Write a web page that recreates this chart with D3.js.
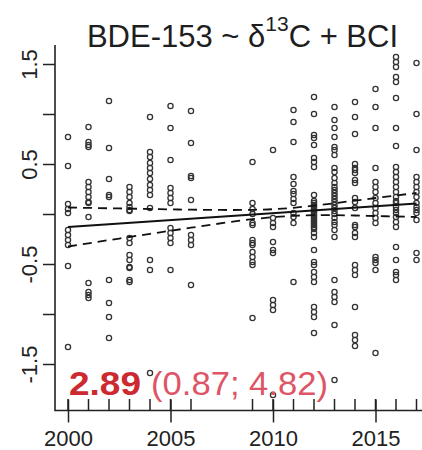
<!DOCTYPE html>
<html><head><meta charset="utf-8">
<script src="https://cdn.jsdelivr.net/npm/d3@7"></script>
<style>
body{margin:0;background:#fff;}
svg{display:block;font-family:"Liberation Sans",Arial,sans-serif;}
</style>
</head><body>
<svg id="c" width="422" height="450"></svg>
<script>
// ---- data ----
const years = [2000,2001,2002,2003,2004,2005,2006,2009,2010,2011,2012,2013,2014,2015,2016,2017];
const values = [
  [0.77,0.48,0.10,0.05,0.01,-0.16,-0.21,-0.26,-0.31,-0.52,-1.33],
  [0.87,0.72,0.69,0.67,0.32,0.27,0.22,0.17,0.12,0.11,-0.03,-0.69,-0.78,-0.81,-0.84],
  [1.13,0.66,0.35,0.19,0.17,-0.66,-0.89,-1.03,-1.24],
  [0.27,0.22,0.17,0.11,0.07,0.04,0.03,-0.24,-0.29,-0.41,-0.46,-0.53,-0.54,-0.66,-0.68],
  [0.97,0.62,0.57,0.51,0.46,0.41,0.35,0.29,0.24,0.19,0.06,-0.46,-0.56,-1.59],
  [1.08,0.86,0.54,0.26,0.21,0.16,0.11,-0.14,-0.19,-0.24,-0.29,-0.56],
  [1.03,0.71,0.38,0.36,0.14,-0.21,-0.26,-0.31,-0.71],
  [0.52,0.11,0.05,0.0,-0.09,-0.11,-0.26,-0.29,-0.31,-0.38,-0.43,-0.48,-0.51,-1.04],
  [0.64,-0.04,-0.09,-0.13,-0.28,-0.36,-0.39,-0.86,-0.91,-0.96,-1.81],
  [1.04,0.92,0.72,0.37,0.30,0.23,0.20,0.15,0.11,0.01,-0.03,-0.09,-0.68],
  [1.17,1.00,0.79,0.76,0.69,0.56,0.52,0.47,0.19,0.13,0.11,0.09,0.07,0.05,0.03,0.01,-0.01,-0.03,-0.05,-0.07,-0.09,-0.11,-0.13,-0.15,-0.19,-0.23,-0.36,-0.48,-0.51,-0.58,-0.63,-0.68,-0.93,-0.98,-1.03,-1.19],
  [1.07,0.94,0.86,0.77,0.67,0.64,0.59,0.46,0.42,0.36,0.31,0.27,0.24,0.21,0.18,0.15,0.12,0.09,0.06,0.03,0.0,-0.04,-0.08,-0.11,-0.16,-0.23,-0.66,-0.78,-0.83,-0.88,-1.11,-1.66],
  [1.12,0.97,0.80,0.50,0.46,0.44,0.41,0.34,0.31,0.16,0.12,0.06,-0.11,-0.13,-0.19,-0.23,-0.51,-0.56,-0.61,-0.93,-1.21,-1.26,-1.32],
  [1.25,1.07,0.86,0.46,0.32,0.27,0.22,0.16,0.11,0.06,0.01,-0.04,-0.09,-0.43,-0.46,-0.49,-0.56,-1.39],
  [1.57,1.52,1.47,1.37,1.32,1.16,0.86,0.68,0.47,0.42,0.37,0.32,0.27,0.22,0.17,0.13,0.11,0.07,0.04,0.01,-0.03,-0.08,-0.13,-0.33,-0.46,-0.58,-0.61,-0.66],
  [1.51,1.00,0.64,0.37,0.32,0.27,0.22,0.17,0.11,0.07,0.04,0.01,-0.06,-0.39,-0.46]
];
const fitYears = [2000, 2017];
const fitValues = [-0.13, 0.106];
const bandYears = [2000,2001,2002,2003,2004,2005,2006,2007,2008,2009,2010,2011,2012,2013,2014,2015,2016,2017];
const bandUpper = [0.065,0.061,0.057,0.054,0.050,0.046,0.043,0.041,0.040,0.042,0.048,0.062,0.084,0.108,0.134,0.16,0.185,0.21];
const bandLower = [-0.325,-0.293,-0.261,-0.230,-0.198,-0.168,-0.137,-0.107,-0.078,-0.052,-0.032,-0.018,-0.012,-0.012,-0.015,-0.02,-0.025,-0.03];
const yTicks = [-1.5,-1,-0.5,0,0.5,1,1.5];
const yLabelTicks = [-1.5,-0.5,0.5,1.5];
const xLabelTicks = [2000,2005,2010,2015];
const titleMain = "BDE-153 ~ \u03b4";
const titleSup = "13";
const titleEnd = "C + BCI";
const estText = "2.89";
const ciText = "(0.87; 4.82)";

// ---- drawing ----
const svg = d3.select("#c");
svg.append("rect").attr("width",422).attr("height",450).attr("fill","#fff");
const x = d3.scaleLinear().domain([2000, 2017]).range([68, 416.5]);
const y = d3.scaleLinear().domain([-1.96, 1.69]).range([410, 45]);
const ink = "#222";

// points
const pts = [];
years.forEach((yr,i)=>values[i].forEach(v=>pts.push([yr,v])));
svg.append("g").selectAll("circle").data(pts).join("circle")
  .attr("cx",d=>x(d[0])).attr("cy",d=>y(d[1])).attr("r",2.6)
  .attr("fill","none").attr("stroke","#333").attr("stroke-width",1.3);

// fit + band
const line = d3.line().x(d=>x(d[0])).y(d=>y(d[1]));
svg.append("path").attr("d",line(fitYears.map((yr,i)=>[yr,fitValues[i]])))
  .attr("fill","none").attr("stroke","#111").attr("stroke-width",2);
[bandUpper,bandLower].forEach(arr=>{
  svg.append("path").attr("d",line.curve(d3.curveMonotoneX)(bandYears.map((yr,i)=>[yr,arr[i]])))
    .attr("fill","none").attr("stroke","#111").attr("stroke-width",1.8)
    .attr("stroke-dasharray","9,6");
});

// y axis
const yAx = svg.append("g").attr("transform","translate(55,0)")
  .call(d3.axisLeft(y).tickValues(yTicks).tickSize(12).tickFormat(d=>yLabelTicks.includes(d)?d.toFixed(1):""));
yAx.select(".domain").remove();
yAx.selectAll(".tick line").attr("stroke",ink).attr("stroke-width",1.5);
yAx.selectAll(".tick text").attr("x",null).attr("dy",null)
  .attr("transform","translate(-18.5,0) rotate(-90)").attr("text-anchor","middle")
  .attr("font-size",22).attr("fill",ink).style("font-family","'Liberation Sans',Arial,sans-serif");

// x axis (minor ticks at data years, inward)
svg.append("g").selectAll("line").data(years).join("line")
  .attr("x1",d=>x(d)).attr("x2",d=>x(d)).attr("y1",399).attr("y2",410)
  .attr("stroke",ink).attr("stroke-width",1.5);
const xAx = svg.append("g").attr("transform","translate(0,410.5)")
  .call(d3.axisBottom(x).tickValues(xLabelTicks).tickSize(12).tickFormat(d3.format("d")));
xAx.select(".domain").remove();
xAx.selectAll(".tick line").attr("y1",-11).attr("y2",12).attr("stroke",ink).attr("stroke-width",1.5);
xAx.selectAll(".tick text").attr("y",35.5).attr("dy",null).attr("font-size",22).attr("fill",ink)
  .style("font-family","'Liberation Sans',Arial,sans-serif");

// L frame
svg.append("path").attr("d","M55,45V410.5H422").attr("fill","none").attr("stroke",ink).attr("stroke-width",1.6);

// title
const t = svg.append("text").attr("x",242.5).attr("y",47).attr("text-anchor","middle")
  .attr("font-size",31).attr("fill","#1e1e1e");
t.append("tspan").text(titleMain);
t.append("tspan").attr("dy",-16).attr("font-size",21).text(titleSup);
t.append("tspan").attr("dy",16).text(titleEnd);

// estimate text
svg.append("text").attr("x",69).attr("y",395).attr("font-size",33).attr("font-weight","bold")
  .attr("textLength",72).attr("lengthAdjust","spacingAndGlyphs")
  .attr("fill","#cc2a30").text(estText);
svg.append("text").attr("x",151).attr("y",395).attr("font-size",33)
  .attr("textLength",177).attr("lengthAdjust","spacingAndGlyphs")
  .attr("fill","#dd5566").text(ciText);
</script>
</body></html>
